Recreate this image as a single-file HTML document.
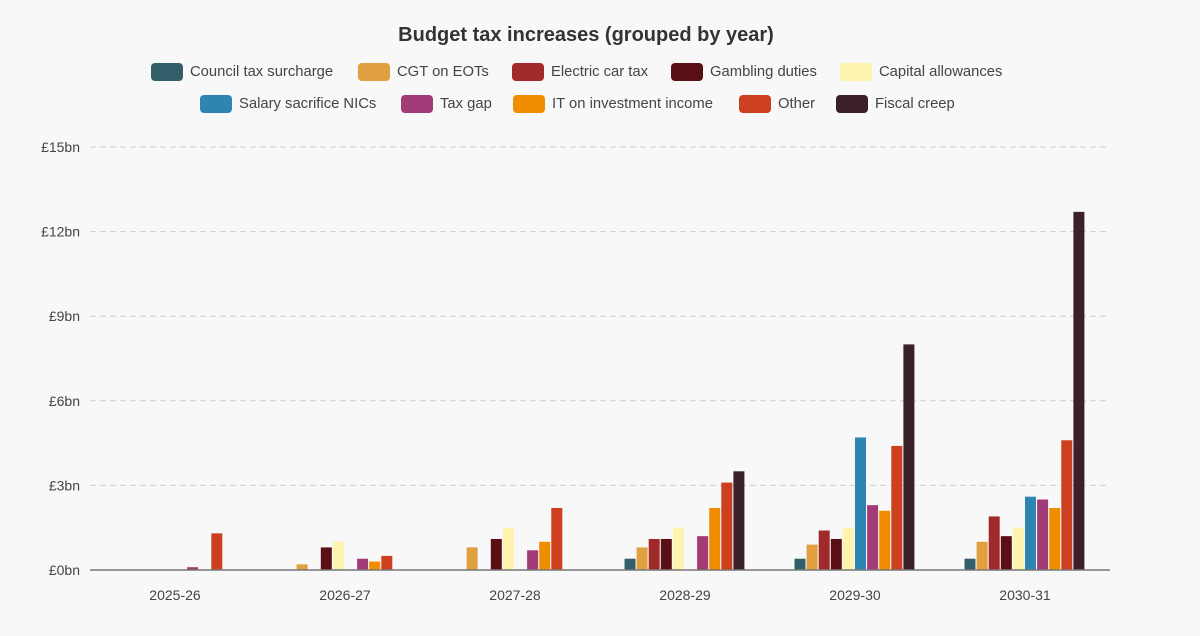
<!DOCTYPE html>
<html><head><meta charset="utf-8"><style>
body{margin:0;background:#f8f8f8;font-family:"Liberation Sans",sans-serif;}
#wrap{position:relative;width:1200px;height:636px;overflow:hidden;background:#f8f8f8}
.lg{position:absolute;font-size:14.8px;color:#444;white-space:nowrap;line-height:18px}
.sw{position:absolute;width:32px;height:18px;border-radius:4px}
</style></head><body>
<div id="wrap">
<div style="position:absolute;top:24px;left:0;width:1172px;text-align:center;font-weight:bold;font-size:20px;color:#333">Budget tax increases (grouped by year)</div>
<div id="legend"></div>
<svg id="svg" width="1200" height="636" style="position:absolute;left:0;top:0"></svg>
</div>
<script>
const categories=["2025-26","2026-27","2027-28","2028-29","2029-30","2030-31"];
const seriesNames=["Council tax surcharge","CGT on EOTs","Electric car tax","Gambling duties","Capital allowances","Salary sacrifice NICs","Tax gap","IT on investment income","Other","Fiscal creep"];
const seriesColors=["#335f6b","#e0a03f","#a02a2a","#5a0f14","#fff3b0","#2e86b0","#a33b78","#f08c00","#cc4020","#3b1f2b"];
const councilTax=[0,0,0,0.4,0.4,0.4];
const cgtEots=[0,0.2,0.8,0.8,0.9,1.0];
const electricCar=[0,0,0,1.1,1.4,1.9];
const gambling=[0,0.8,1.1,1.1,1.1,1.2];
const capitalAllow=[0,1.0,1.5,1.5,1.5,1.5];
const salarySacrifice=[0,0,0,0,4.7,2.6];
const taxGap=[0.1,0.4,0.7,1.2,2.3,2.5];
const itInvestment=[0,0.3,1.0,2.2,2.1,2.2];
const other=[1.3,0.5,2.2,3.1,4.4,4.6];
const fiscalCreep=[0,0,0,3.5,8.0,12.7];
const yTicks=[0,3,6,9,12,15];
const yTickLabels=["£0bn","£3bn","£6bn","£9bn","£12bn","£15bn"];
const series=[councilTax,cgtEots,electricCar,gambling,capitalAllow,salarySacrifice,taxGap,itInvestment,other,fiscalCreep];

const NS="http://www.w3.org/2000/svg";
const svg=document.getElementById('svg');
const x0=90,x1=1110,yBase=570,yTop=147,yMax=15;
const band=(x1-x0)/categories.length;
function y(v){return yBase-(v/yMax)*(yBase-yTop);}
function xc(i){return x0+band*(i+0.5);}
function mk(tag,attrs){const e=document.createElementNS(NS,tag);for(const k in attrs)e.setAttribute(k,attrs[k]);svg.appendChild(e);return e;}
yTicks.forEach((t,i)=>{
  if(t>0){const l=mk('line',{x1:x0,x2:x1,y1:y(t),y2:y(t),stroke:'#ccc','stroke-dasharray':'6,4','stroke-width':1});
  
  }
  const tx=mk('text',{x:80,y:y(t)+5,'text-anchor':'end','font-size':14,fill:'#444','font-family':'Liberation Sans, sans-serif'});
  tx.textContent=yTickLabels[i];
  
  
});
const step=12.1,bw=11;
series.forEach((vals,s)=>{
  vals.forEach((v,i)=>{
    if(v<=0)return;
    const bx=xc(i)-step*5+step*s;
    const r=mk('rect',{x:bx,y:y(v),width:bw,height:yBase-y(v),fill:seriesColors[s]});
    
    
  });
});
const ax=mk('line',{x1:x0,x2:x1,y1:yBase,y2:yBase,stroke:'#777','stroke-width':1.5});


categories.forEach((c,i)=>{
  const t=mk('text',{x:xc(i),y:600,'text-anchor':'middle','font-size':14,fill:'#444','font-family':'Liberation Sans, sans-serif'});
  t.textContent=c;
  
  
});
const legendPos=[[151,63],[358,63],[512,63],[671,63],[840,63],[200,95],[401,95],[513,95],[739,95],[836,95]];
const lg=document.getElementById('legend');
seriesNames.forEach((n,i)=>{
  const sw=document.createElement('div');sw.className='sw';
  sw.style.left=legendPos[i][0]+'px';sw.style.top=legendPos[i][1]+'px';sw.style.background=seriesColors[i];
  
  
  lg.appendChild(sw);
  const t=document.createElement('div');t.className='lg';
  t.style.left=(legendPos[i][0]+39)+'px';t.style.top=legendPos[i][1]+'px';t.textContent=n;
  
  
  lg.appendChild(t);
});
</script>
</body></html>
